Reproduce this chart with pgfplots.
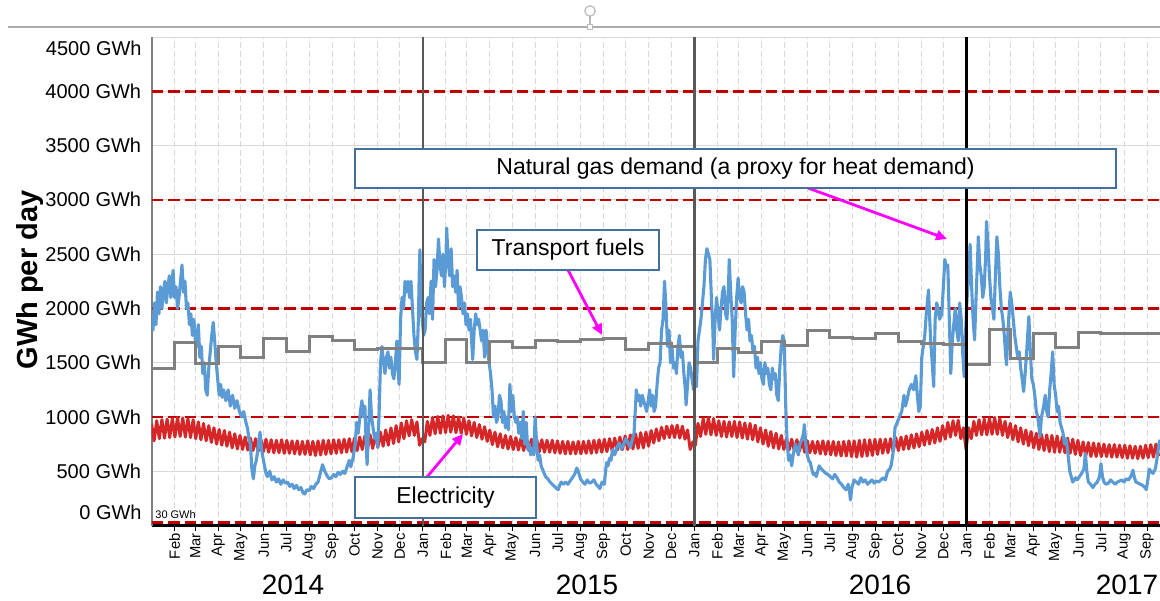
\documentclass[border=0pt]{standalone}
\usepackage{fontspec}
\setmainfont{Liberation Sans}
\usepackage{pgfplots}
\pgfplotsset{compat=1.18}
\usetikzlibrary{arrows.meta}
\definecolor{gasblue}{RGB}{91,155,213}
\definecolor{elecred}{RGB}{215,38,40}
\definecolor{refred}{RGB}{192,0,0}
\definecolor{boxblue}{RGB}{65,113,156}
\definecolor{gridgray}{RGB}{217,217,217}
\definecolor{fuelgray}{RGB}{128,128,128}
\definecolor{yeargray}{RGB}{89,89,89}
\definecolor{arrowmag}{RGB}{255,0,255}
\begin{document}
\begin{tikzpicture}[x=1pt,y=1pt]
\useasboundingbox (0,0) rectangle (580,300);
% frame decoration at top
\draw[gray!65, line width=0.6pt] (4,286.5) -- (580,286.5);
\draw[gray!55, line width=0.6pt] (295,294.5) circle (2.6);
\draw[gray!55, line width=0.6pt] (295,291.9) -- (295,288.2);
\draw[gray!55, fill=white, line width=0.5pt] (293.8,285.3) rectangle (296.2,287.7);
\begin{axis}[
  at={(75.75pt,37.25pt)}, anchor=south west, scale only axis,
  width=504.25pt, height=244.25pt,
  xmin=0, xmax=1356.4, ymin=0, ymax=4500,
  axis x line*=bottom, axis y line*=left,
  axis line style={-},
  x axis line style={black, line width=1.6pt},
  y axis line style={fuelgray, line width=1pt},
  xtick={31,59,90,120,151,181,212,243,273,304,334,365,396,424,455,485,516,546,577,608,638,669,699,730,761,790,821,851,882,912,943,974,1004,1035,1065,1096,1127,1155,1186,1216,1247,1277,1308,1339},
  xticklabels={Feb,Mar,Apr,May,Jun,Jul,Aug,Sep,Oct,Nov,Dec,Jan,Feb,Mar,Apr,May,Jun,Jul,Aug,Sep,Oct,Nov,Dec,Jan,Feb,Mar,Apr,May,Jun,Jul,Aug,Sep,Oct,Nov,Dec,Jan,Feb,Mar,Apr,May,Jun,Jul,Aug,Sep},
  xticklabel style={yshift=-1pt, rotate=90, anchor=east, font=\fontsize{7.4}{8}\selectfont, inner sep=0.3pt},
  ytick={0,500,1000,1500,2000,2500,3000,3500,4000,4500},
  yticklabels={,500 GWh,1000 GWh,1500 GWh,2000 GWh,2500 GWh,3000 GWh,3500 GWh,4000 GWh,},
  yticklabel style={font=\fontsize{10}{12}\selectfont, inner sep=0pt, anchor=east, xshift=-2.5pt},
  ytick style={draw=none},
  xtick style={black, line width=0.5pt},
  tick align=outside, major tick length=2.5pt,
  xmajorgrids, ymajorgrids,
  x grid style={gridgray, line width=0.5pt, dash pattern=on 3pt off 1.5pt},
  y grid style={gridgray, line width=0.5pt},
  clip=true,
]
% reference lines
\draw[refred, line width=1.3pt, dash pattern=on 5.8pt off 2.5pt] (axis cs:0,30) -- (axis cs:1356.4,30);
\draw[refred, line width=1.3pt, dash pattern=on 5.8pt off 2.5pt] (axis cs:0,1000) -- (axis cs:1356.4,1000);
\draw[refred, line width=1.3pt, dash pattern=on 5.8pt off 2.5pt] (axis cs:0,2000) -- (axis cs:1356.4,2000);
\draw[refred, line width=1.3pt, dash pattern=on 5.8pt off 2.5pt] (axis cs:0,3000) -- (axis cs:1356.4,3000);
\draw[refred, line width=1.3pt, dash pattern=on 5.8pt off 2.5pt] (axis cs:0,4000) -- (axis cs:1356.4,4000);
% Electricity (half-week samples, weekday high / weekend low)
\addplot[elecred, line width=1.5pt, line join=round] table[header=false, row sep=\\, x expr=\coordindex*3.5, y index=0] {
940\\780\\965\\800\\975\\805\\980\\810\\985\\
815\\995\\820\\990\\815\\985\\810\\975\\
800\\955\\790\\940\\780\\920\\765\\900\\750\\
885\\740\\875\\730\\860\\715\\845\\705\\830\\
700\\815\\695\\805\\690\\800\\685\\795\\680\\
795\\675\\790\\670\\785\\670\\790\\665\\
785\\665\\780\\660\\780\\655\\775\\655\\780\\
650\\775\\645\\780\\650\\785\\655\\785\\660\\
790\\665\\790\\670\\795\\675\\800\\680\\
805\\690\\815\\700\\825\\705\\835\\710\\845\\
720\\860\\730\\880\\740\\900\\755\\920\\770\\
945\\800\\965\\825\\975\\830\\955\\740\\800\\
770\\960\\830\\995\\845\\1005\\850\\1010\\855\\
1015\\860\\1010\\855\\1000\\850\\990\\840\\
965\\825\\950\\810\\930\\795\\910\\775\\
880\\745\\860\\725\\845\\715\\830\\705\\820\\
700\\810\\695\\805\\690\\800\\690\\795\\685\\
795\\680\\790\\675\\785\\675\\785\\670\\
780\\665\\775\\660\\775\\660\\770\\660\\775\\
660\\775\\665\\780\\665\\785\\670\\790\\675\\
795\\680\\800\\690\\805\\695\\815\\700\\825\\
700\\835\\705\\845\\710\\855\\715\\860\\730\\
875\\760\\890\\780\\905\\800\\915\\810\\
920\\810\\925\\805\\915\\795\\880\\700\\770\\
740\\940\\820\\985\\840\\995\\835\\985\\830\\
965\\820\\960\\815\\955\\820\\960\\810\\
955\\805\\945\\795\\940\\790\\925\\770\\900\\
750\\880\\730\\865\\715\\850\\705\\830\\700\\
805\\695\\795\\690\\790\\685\\785\\675\\
780\\670\\775\\665\\775\\660\\780\\655\\775\\
650\\775\\645\\770\\640\\775\\640\\780\\635\\
780\\630\\785\\635\\790\\640\\790\\645\\795\\
655\\795\\665\\795\\670\\800\\680\\810\\
690\\815\\700\\825\\705\\835\\715\\845\\725\\
860\\740\\875\\750\\885\\760\\900\\775\\920\\
795\\950\\815\\965\\830\\970\\800\\900\\700\\
900\\800\\960\\830\\975\\835\\980\\835\\
990\\840\\995\\840\\985\\830\\960\\810\\
940\\790\\920\\770\\900\\750\\880\\735\\865\\
715\\850\\700\\840\\690\\835\\680\\830\\675\\
825\\675\\815\\670\\805\\665\\795\\655\\785\\
645\\770\\640\\765\\635\\760\\635\\755\\
635\\750\\635\\745\\630\\745\\630\\740\\625\\
740\\620\\735\\620\\730\\615\\730\\620\\740\\
625\\745\\630\\750\\640\\
};
% Natural gas demand
\addplot[gasblue, line width=1.55pt, line join=round] coordinates {
(0,1900) (2,1800) (4,2050) (6,1850) (8,2150) (10,1950) (12,2200) (14,2000) (16,2150) (18,2250) (20,2050) (22,2200) (24,2300) (26,2100) (28,2250) (29,2350) (31,2100) (33,2200) (35,2000) (37,2100) (39,2250) (41,2400) (43,2150) (45,2250) (47,2000) (49,2050) (51,1850) (53,1950) (55,1750) (57,1900) (59,1700) (61,1650) (63,1850) (65,1550) (67,1650) (69,1400) (71,1500) (73,1250) (75,1200) (77,1450) (79,1600) (81,1750) (83,1870) (85,1700) (87,1500) (89,1350) (91,1200) (93,1300) (95,1180) (97,1250) (100,1150) (103,1250) (106,1100) (109,1200) (112,1080) (115,1150) (118,1060) (121,1000) (124,1050) (127,950) (129,900) (131,800) (133,750) (135,520) (137,430) (139,550) (141,600) (143,700) (145,820) (146,860) (148,700) (150,620) (152,550) (154,480) (156,450) (159,500) (162,420) (165,450) (168,400) (171,430) (174,380) (177,420) (180,390) (183,400) (186,360) (189,380) (192,340) (195,370) (198,330) (201,350) (204,300) (206,290) (209,330) (212,320) (215,360) (218,340) (221,380) (224,400) (227,480) (230,560) (233,500) (236,460) (239,430) (242,440) (245,470) (248,450) (251,490) (254,470) (257,500) (260,480) (263,540) (266,600) (268,540) (271,620) (274,750) (276,950) (278,850) (281,1050) (283,1150) (285,1000) (287,1100) (289,700) (290,560) (292,900) (294,1250) (296,1000) (298,900) (300,800) (302,850) (304,720) (306,1000) (308,1500) (310,1650) (312,1500) (314,1400) (316,1550) (318,1600) (320,1450) (322,1550) (324,1400) (326,1350) (328,1500) (330,1700) (332,1400) (333,1300) (335,1900) (337,2100) (339,2000) (341,2250) (343,2150) (345,2250) (347,2100) (349,2250) (351,2000)
(353,1750) (355,1600) (357,1530) (359,1900) (360,2300) (361,2540) (362,2200) (364,1900) (366,1750) (368,1800) (370,2050) (372,2100) (374,1950) (376,2250) (378,1900) (380,2450) (382,2200) (384,2350) (386,2640) (388,2400) (390,2300) (392,2500) (394,2200) (396,2450) (397,2740) (399,2450) (401,2300) (403,2550) (405,2200) (407,2300) (409,2150) (411,2350) (413,2000) (415,2200) (417,2100) (419,1950) (421,2050) (423,1850) (425,1950) (427,1800) (429,1900) (431,1650) (432,1530) (434,1800) (436,1950) (438,1850) (440,1900) (442,1800) (444,1700) (446,1800) (448,1550) (450,1800) (452,1650) (454,1500) (456,1400) (458,1250) (460,1000) (462,1100) (464,950) (466,1000) (468,1200) (470,1150) (472,950) (474,1050) (476,900) (478,1000) (480,880) (482,1300) (484,1050) (486,1200) (488,1000) (490,950) (492,1000) (494,850) (496,950) (498,800) (500,1050) (502,750) (504,950) (506,700) (508,750) (510,650) (512,700) (514,650) (516,1000) (518,750) (520,600) (522,650) (524,550) (527,500) (530,450) (533,430) (536,400) (539,380) (542,360) (545,340) (547,330) (549,370) (551,400) (554,380) (557,400) (560,380) (563,410) (566,440) (569,470) (572,530) (574,500) (577,430) (580,400) (583,380) (586,420) (589,390) (592,400) (595,420) (598,380) (601,360) (603,340) (606,400) (609,380) (612,580) (614,550) (616,620) (618,600) (620,700) (623,650) (626,720) (629,760) (632,700) (635,750) (638,800) (641,760) (644,720) (647,800) (649,850) (651,1100) (652,1250) (654,1150) (656,1200) (658,1100) (660,1200) (662,1150) (664,1100) (666,1050) (668,1150) (670,1250) (672,1100) (674,1200) (676,1050) (678,1100) (680,1300) (682,1450) (684,1500) (686,1800) (688,1900) (690,2250) (692,2000) (694,1650) (696,1800) (698,1500) (700,1650) (702,1450) (704,1500) (706,1400) (708,1650) (710,1750) (712,1550) (714,1600) (716,1400) (718,1250) (719,1110) (721,1300) (723,1500) (725,1450) (727,1350) (729,1250) (731,1300)
(733,1280) (735,1700) (737,1800) (739,1900) (741,2050) (743,2200) (745,2450) (747,2550) (749,2500) (751,2450) (753,2100) (755,1800) (756,1530) (758,1900) (760,2100) (762,1950) (764,1800) (766,2000) (768,2150) (770,2200) (772,1950) (774,1900) (776,2200) (777,2450) (779,2150) (781,1900) (783,1370) (785,1800) (787,2100) (789,2280) (791,2100) (793,2050) (795,2200) (797,2150) (799,1950) (801,1800) (803,1900) (805,1700) (807,1750) (809,1600) (811,1650) (813,1450) (815,1550) (817,1400) (819,1500) (821,1350) (823,1300) (825,1500) (827,1400) (829,1450) (831,1300) (833,1250) (835,1450) (837,1350) (839,1400) (841,1200) (843,1150) (845,1450) (847,1650) (849,1750) (851,1700) (853,1100) (855,750) (857,600) (859,650) (861,550) (863,650) (866,750) (868,700) (870,650) (872,750) (875,800) (877,850) (878,930) (880,750) (882,650) (884,600) (886,580) (888,520) (890,470) (892,480) (894,450) (896,500) (898,550) (901,520) (904,500) (907,480) (910,470) (913,450) (916,430) (919,470) (922,440) (925,400) (928,380) (931,350) (934,330) (937,380) (939,300) (940,235) (942,350) (945,420) (948,400) (951,380) (954,440) (957,400) (960,420) (963,380) (966,400) (969,420) (972,390) (975,410) (978,400) (981,420) (984,440) (987,420) (990,500) (993,520) (995,560) (998,700) (1000,900) (1003,950) (1006,1000) (1009,1050) (1012,1200) (1014,1100) (1016,1150) (1019,1250) (1022,1300) (1025,1250) (1028,1380) (1030,1200) (1032,1050) (1034,1100) (1036,1550) (1038,1650) (1040,1750) (1042,1950) (1045,2170) (1047,1850) (1048,1700) (1050,1500) (1052,1280) (1054,1900) (1056,2050) (1058,2000) (1060,1900) (1063,1950) (1065,2200) (1067,2450) (1069,2380) (1071,2400) (1073,1900) (1075,1400) (1077,1700) (1079,1850) (1081,2000) (1083,1800) (1085,1700) (1087,2050) (1089,1900) (1091,1600) (1093,1370) (1095,1800)
(1097,2100) (1099,2300) (1101,2590) (1103,2200) (1105,1900) (1107,1710) (1109,2100) (1111,2450) (1112,2660) (1114,2400) (1116,2300) (1118,2100) (1120,2200) (1122,2500) (1123,2800) (1125,2600) (1127,2300) (1129,2100) (1131,2000) (1133,1900) (1135,2300) (1137,2660) (1139,2500) (1141,2200) (1143,2000) (1145,1900) (1147,1750) (1149,1550) (1150,1480) (1152,1800) (1155,2150) (1157,2050) (1159,1900) (1161,1750) (1163,1650) (1165,1550) (1167,1600) (1169,1450) (1171,1350) (1173,1234) (1175,1400) (1177,1600) (1180,1925) (1182,1600) (1184,1350) (1186,1300) (1188,1200) (1190,1050) (1192,1000) (1195,820) (1197,1000) (1200,1100) (1202,1200) (1204,1050) (1206,1000) (1208,1250) (1210,1400) (1212,1600) (1214,1300) (1216,1200) (1218,1050) (1220,1100) (1222,950) (1224,900) (1226,850) (1228,750) (1230,800) (1232,700) (1235,500) (1237,450) (1239,400) (1241,420) (1243,440) (1245,420) (1248,450) (1251,480) (1254,520) (1256,665) (1258,500) (1260,400) (1263,380) (1266,350) (1269,380) (1272,400) (1275,450) (1277,570) (1279,450) (1281,400) (1284,380) (1287,390) (1290,420) (1293,400) (1296,380) (1299,400) (1302,410) (1305,420) (1308,400) (1311,430) (1314,420) (1317,450) (1320,510) (1322,440) (1324,400) (1327,390) (1330,380) (1333,370) (1336,350) (1338,330) (1340,420) (1342,520) (1344,500) (1347,480) (1350,520) (1352,600) (1354,700) (1356,790)
};
% Transport fuels (monthly)
\addplot[fuelgray, line width=1.5pt, const plot] coordinates {
(0,1450) (31,1690) (59,1490) (90,1645) (120,1545) (151,1725) (181,1602) (212,1740) (243,1703) (273,1620) (304,1635) (334,1635)
(365,1500) (396,1710) (424,1504) (455,1691) (485,1639) (516,1703) (546,1694) (577,1716) (608,1722) (638,1618) (669,1673) (699,1648)
(730,1500) (761,1633) (790,1593) (821,1697) (851,1657) (882,1796) (912,1734) (943,1722) (974,1768) (1004,1697) (1035,1679) (1065,1667)
(1096,1479) (1127,1808) (1155,1535) (1186,1771) (1216,1636) (1247,1778) (1277,1765) (1308,1765) (1339,1765) (1356.4,1765)
};
% year separators
\draw[yeargray, line width=1.3pt] (axis cs:365,0) -- (axis cs:365,4500);
\draw[yeargray, line width=1.3pt] (axis cs:730,0) -- (axis cs:730,4500);
\draw[black, line width=1.4pt] (axis cs:1096,0) -- (axis cs:1096,4500);
\end{axis}
% y labels moved off the axis ends
\node[anchor=east, inner sep=0pt, font=\fontsize{10}{12}\selectfont] at (71,44) {0 GWh};
\node[anchor=east, inner sep=0pt, font=\fontsize{10}{12}\selectfont] at (71,276) {4500 GWh};
\node[anchor=west, inner sep=0pt, font=\fontsize{5.5}{6}\selectfont] at (77.5,42.5) {30 GWh};
% axis title
\node[rotate=90, font=\bfseries\fontsize{14.5}{16}\selectfont] at (15,160) {GWh per day};
% years
\node[font=\fontsize{14}{16}\selectfont] at (146.5,7.5) {2014};
\node[font=\fontsize{14}{16}\selectfont] at (293.5,7.5) {2015};
\node[font=\fontsize{14}{16}\selectfont] at (440,7.5) {2016};
\node[font=\fontsize{14}{16}\selectfont] at (563.5,7.5) {2017};
% annotations
\draw[arrowmag, line width=1.4pt, -{Triangle[length=5.5pt,width=5pt]}] (404,206) -- (473.5,180.5);
\draw[arrowmag, line width=1.4pt, -{Triangle[length=5.5pt,width=5pt]}] (284,165) -- (301,132.5);
\draw[arrowmag, line width=1.4pt, -{Triangle[length=5.5pt,width=5pt]}] (213.5,61.5) -- (231.5,83);
\draw[boxblue, fill=white, line width=0.75pt] (177.5,206) rectangle (558,225.5);
\node[font=\fontsize{11.5}{13}\selectfont] at (367.75,215.75) {Natural gas demand (a proxy for heat demand)};
\draw[boxblue, fill=white, line width=0.75pt] (238.5,165) rectangle (329.5,185);
\node[font=\fontsize{11.5}{13}\selectfont] at (284,175) {Transport fuels};
\draw[boxblue, fill=white, line width=0.75pt] (177.5,41) rectangle (268,61.5);
\node[font=\fontsize{11.5}{13}\selectfont] at (222.75,51.25) {Electricity};
\end{tikzpicture}
\end{document}
